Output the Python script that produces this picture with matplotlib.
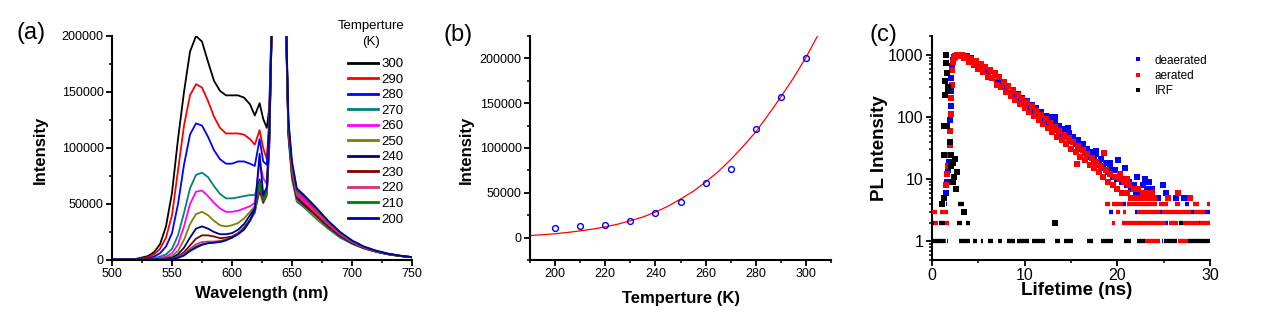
import numpy as np
import matplotlib
matplotlib.use("Agg")
import matplotlib.pyplot as plt
from matplotlib.lines import Line2D
from matplotlib.ticker import MultipleLocator, NullFormatter

plt.rcParams['font.family'] = ['Liberation Sans', 'DejaVu Sans']

# ---------------- (a) PL spectra vs temperature (values in units of 1000) ----------------
wavelength = [500, 510, 520, 530, 535, 540, 545, 550, 555, 560, 565, 570, 575, 580, 585,
              590, 595, 600, 605, 610, 615, 619, 623, 626, 629, 631, 634, 639, 644, 647,
              650, 654, 660, 670, 680, 690, 700, 710, 720, 730, 740, 750]
temps_a = [300, 290, 280, 270, 260, 250, 240, 230, 220, 210, 200]
colors_a = ['#000000', '#ff0000', '#0000ff', '#008080', '#ff00ff', '#808000',
            '#000080', '#800000', '#d6307a', '#008000', '#0000a8']

spec_300 = [0.5, 0.5, 1.0, 3.5, 7, 14, 30, 60, 108, 150, 186, 200, 195, 177, 160,
            151, 147, 147, 147, 145, 139, 129, 140, 126, 118, 135, 250, 600, 260, 120,
            82, 62, 55, 43, 32, 23, 16, 11, 7.8, 5.4, 3.7, 2.5]
spec_290 = [0.5, 0.5, 0.8, 2.5, 5, 10, 20, 40, 80, 120, 147, 157, 154, 142, 128,
            118, 113, 113, 113, 112, 108, 103, 116, 100, 90, 125, 250, 600, 260, 120,
            82, 62, 55, 44, 33, 23, 16, 11, 7.8, 5.4, 3.7, 2.5]
spec_280 = [0.5, 0.5, 0.6, 1.5, 3, 6, 12, 24, 50, 85, 112, 122, 120, 110, 98,
            90, 86, 86, 88, 88, 86, 84, 108, 88, 85, 120, 250, 600, 260, 115,
            78, 58, 52, 42, 31, 22, 15.5, 10.8, 7.6, 5.3, 3.6, 2.5]
spec_270 = [0.5, 0.5, 0.5, 1, 1.5, 3, 5, 10, 22, 42, 64, 76, 78, 74, 66,
            59, 55, 55, 56, 57, 58, 58, 70, 56, 62, 110, 250, 600, 255, 110,
            72, 52, 47, 37, 28, 20, 14.5, 10.2, 7.2, 5.0, 3.5, 2.4]
spec_260 = [0.5, 0.5, 0.5, 0.8, 1.2, 2, 3, 6, 14, 30, 50, 61, 62, 57, 51,
            46, 43, 43, 44, 46, 48, 51, 88, 73, 68, 110, 250, 600, 260, 118,
            80, 60, 54, 43, 32, 23, 16, 11, 7.8, 5.4, 3.7, 2.5]
spec_250 = [0.5, 0.5, 0.5, 0.6, 0.8, 1.2, 2, 3.5, 8, 18, 32, 41, 43, 40, 35,
            31, 30, 31, 33, 37, 43, 48, 66, 54, 62, 105, 250, 600, 255, 112,
            75, 54, 48, 38, 29, 21, 15, 10.5, 7.4, 5.1, 3.5, 2.4]
spec_240 = [0.5, 0.5, 0.5, 0.5, 0.6, 0.8, 1.2, 2, 5, 11, 20, 28, 30, 28, 25,
            23, 23, 24, 27, 32, 40, 46, 72, 55, 60, 105, 250, 600, 255, 114,
            77, 56, 50, 40, 30, 21.5, 15, 10.6, 7.5, 5.2, 3.6, 2.4]
spec_230 = [0.5, 0.5, 0.5, 0.5, 0.5, 0.5, 0.8, 1.5, 3, 7, 13, 19, 22, 22, 21,
            19.5, 20, 21, 24, 29, 36, 43, 62, 51, 58, 100, 250, 600, 255, 114,
            76, 55, 49, 40, 30, 22, 15.5, 10.8, 7.6, 5.3, 3.6, 2.5]
spec_220 = [0.5, 0.5, 0.5, 0.5, 0.5, 0.5, 0.7, 1.2, 2.5, 5.5, 10, 14, 16, 16.5, 16.5,
            17, 18.5, 20, 24, 28, 35, 42, 68, 53, 60, 100, 250, 600, 260, 118,
            80, 58, 52, 42, 32, 23, 16, 11, 7.8, 5.4, 3.7, 2.5]
spec_210 = [0.5, 0.5, 0.5, 0.5, 0.5, 0.5, 0.6, 1, 2, 4.5, 8.5, 12, 14, 15, 15.5,
            16.5, 18, 20, 23, 28, 36, 44, 70, 53, 62, 105, 250, 600, 265, 122,
            85, 62, 57, 46, 35, 25, 17, 11.8, 8.2, 5.6, 3.8, 2.6]
spec_200 = [0.5, 0.5, 0.5, 0.5, 0.5, 0.5, 0.6, 1, 2, 4, 8, 11, 13.5, 15, 15.5,
            16, 17.5, 20, 23, 27, 35, 45, 95, 58, 65, 110, 250, 600, 268, 125,
            88, 64, 58, 47, 35, 25, 17.5, 12, 8.4, 5.7, 3.9, 2.6]
spectra = [spec_300, spec_290, spec_280, spec_270, spec_260, spec_250,
           spec_240, spec_230, spec_220, spec_210, spec_200]

# ---------------- (b) peak intensity vs temperature ----------------
temp_b = [200, 210, 220, 230, 240, 250, 260, 270, 280, 290, 300]
peak_b = [10500, 12500, 14300, 19000, 28000, 40000, 61000, 76800, 121500, 157000, 200000]
fit_t = [190, 195, 200, 205, 210, 215, 220, 225, 230, 235, 240, 245, 250,
         255, 260, 265, 270, 275, 280, 285, 290, 295, 300, 305]
fit_i = [2300, 3200, 4300, 5800, 7500, 9500, 12000, 15000, 18800, 23000, 28500, 35000, 43000,
         51500, 62000, 73500, 87000, 102000, 118000, 137000, 157000, 178000, 201000, 227000]

# ---------------- (c) PL decay ----------------
dea_rise_t = [1.5, 1.58, 1.7, 1.8, 1.9, 1.95, 2.0, 2.05, 2.1, 2.2, 2.3, 2.4]
dea_rise_n = [6, 9, 14, 19, 40, 90, 150, 260, 420, 650, 820, 920]
aer_rise_t = [1.55, 1.65, 1.75, 1.85, 1.92, 1.97, 2.02, 2.07, 2.12, 2.2, 2.3, 2.4]
aer_rise_n = [8, 12, 16, 24, 35, 60, 110, 200, 330, 560, 760, 900]

decay_t0 = 2.5      # first channel of decay lists (ns)
decay_dt = 0.25     # channel spacing of decay lists (ns)
dea_decay = [930, 990, 1000, 1000, 960, 950, 830, 870, 740, 790,
             630, 700, 560, 610, 490, 540, 430, 470, 370, 410,
             320, 350, 280, 310, 240, 265, 212, 235, 182, 200,
             165, 180, 140, 157, 125, 138, 108, 120, 94, 105,
             82, 100, 72, 84, 62, 72, 54, 64, 48, 56,
             41, 48, 36, 43, 30, 36, 26, 31, 23, 27,
             20, 25, 17, 21, 15, 18, 13, 15, 11, 14,
             10, 12, 9, 10, 8, 9, 7, 8, 6, 7,
             6, 8, 5, 7, 6, 7, 5]
aer_decay = [960, 1000, 940, 990, 880, 920, 760, 860, 680, 780,
             580, 700, 530, 630, 440, 560, 420, 500, 330, 440,
             300, 370, 250, 315, 220, 270, 185, 228, 160, 195,
             140, 172, 118, 148, 104, 126, 88, 108, 77, 93,
             66, 80, 57, 70, 48, 60, 42, 52, 36, 45,
             31, 39, 27, 34, 23, 29, 20, 25, 17, 22,
             15, 19, 13, 16, 11, 14, 9, 12, 8, 11,
             7, 10, 6, 9, 6, 8, 5, 7, 5, 7,
             5, 6, 5, 6, 5, 6, 5]
dea_extra_t = [13.3, 14.7, 17.7, 19.2, 20.1, 20.8, 22.1, 23.0, 23.4, 24.4, 24.9, 25.3, 26.3, 27.2]
dea_extra_n = [100, 66, 28, 18, 20, 15, 11, 10, 9, 5, 8, 6, 5, 5]
aer_extra_t = [15.7, 18.6, 20.3, 21.0, 25.5, 26.6, 27.8]
aer_extra_n = [17.5, 26, 12, 10, 5, 6, 5]

irf_t = [1.47, 1.52, 1.58, 1.40, 1.76, 1.40, 1.70, 1.33, 1.58, 1.94, 1.26, 2.00,
         2.44, 2.09, 2.30, 2.66, 2.37, 2.23, 2.59, 1.26, 1.08, 3.45, 13.27]
irf_n = [1000, 740, 506, 371, 272, 226, 300, 71, 71, 40, 24, 24,
         21, 16, 18, 13, 11, 9, 7, 5, 4, 3, 2]

# runs of low-count channels: (count, t start, t end)
dea_runs = [(2, 0.0, 0.2), (4, 1.5, 1.6), (1, 1.6, 1.7), (3, 19.1, 19.55), (4, 20.65, 20.95),
            (3, 21.95, 22.1), (3, 24.6, 24.8), (1, 24.8, 24.95), (2, 25.3, 25.45),
            (4, 27.3, 27.7), (3, 28.0, 28.3), (2, 28.8, 28.95), (3, 29.5, 30.0)]
aer_runs = [(3, 0.0, 0.55), (3, 0.86, 1.75), (2, 0.2, 0.7), (2, 1.4, 1.8), (1, 1.4, 1.55),
            (4, 18.7, 19.2), (4, 19.4, 20.65), (4, 21.0, 24.3), (4, 24.5, 25.5), (4, 26.2, 26.8),
            (4, 28.2, 28.8), (4, 29.7, 30.0),
            (3, 19.85, 20.3), (3, 20.6, 20.9), (3, 22.1, 24.6), (3, 24.8, 28.0), (3, 28.3, 29.5),
            (2, 19.4, 19.8), (2, 20.5, 25.3), (2, 25.6, 26.6), (2, 27.1, 28.8), (2, 28.9, 30.0),
            (1, 22.98, 24.6), (1, 26.58, 27.66)]
irf_runs = [(1, 0.0, 1.4), (1, 2.95, 4.1), (1, 4.46, 4.82), (1, 5.25, 5.54), (1, 6.08, 6.55),
            (1, 7.16, 7.52), (1, 8.13, 8.96), (1, 9.14, 10.5), (1, 10.76, 12.19), (1, 13.27, 13.81),
            (1, 14.24, 15.18), (1, 16.69, 17.41), (1, 18.24, 19.49), (1, 20.72, 21.44),
            (1, 22.09, 22.98), (1, 25.03, 26.4), (1, 27.66, 30.0),
            (2, 0.8, 1.4), (2, 2.66, 3.2), (2, 3.7, 4.1), (2, 26.7, 27.1),
            (4, 0.8, 1.4), (4, 2.84, 3.4)]

# ---------------- figure ----------------
W, H = 1269, 313
fig = plt.figure(figsize=(W / 100, H / 100), dpi=100)
bot, hgt = 53 / H, 224 / H
ax_a = fig.add_axes([112 / W, bot, 300 / W, hgt])
ax_b = fig.add_axes([530 / W, bot, 301 / W, hgt])
ax_c = fig.add_axes([932 / W, bot, 278 / W, hgt])


def style(ax, labelsize):
    for s in ['top', 'right']:
        ax.spines[s].set_visible(False)
    for s in ['left', 'bottom']:
        ax.spines[s].set_linewidth(1.5)
    ax.tick_params(which='major', direction='out', length=4, width=1.3, labelsize=labelsize, pad=2)
    ax.tick_params(which='minor', direction='out', length=2.5, width=1.1)


# (a)
for vals, c, T in zip(spectra, colors_a, temps_a):
    ax_a.plot(wavelength, np.array(vals) * 1000, color=c, lw=1.3, label=str(T))
ax_a.set_xlim(500, 750)
ax_a.set_ylim(0, 200000)
ax_a.xaxis.set_major_locator(MultipleLocator(50))
ax_a.xaxis.set_minor_locator(MultipleLocator(25))
ax_a.yaxis.set_major_locator(MultipleLocator(50000))
ax_a.yaxis.set_minor_locator(MultipleLocator(25000))
style(ax_a, 9)
ax_a.set_xlabel('Wavelength (nm)', fontsize=12, fontweight='bold')
ax_a.set_ylabel('Intensity', fontsize=12, fontweight='bold')
ax_a.xaxis.set_label_coords(0.5, -0.118)
ax_a.yaxis.set_label_coords(-0.215, 0.49)
leg = ax_a.legend(loc='upper left', bbox_to_anchor=(0.787, 0.902),
                  frameon=False, fontsize=9.5, handlelength=2.3,
                  handletextpad=0.2, labelspacing=0.25, borderpad=0, borderaxespad=0)
for l in leg.get_lines():
    l.set_linewidth(2)
fig.text(371 / W, 1 - 34 / H, 'Temperture\n(K)', fontsize=9.5, ha='center', va='center',
         linespacing=1.35)
fig.text(31 / W, 1 - 33 / H, '(a)', fontsize=17, ha='center', va='center')

# (b)
ax_b.plot(fit_t, fit_i, color='#ff0000', lw=0.9)
ax_b.plot(temp_b, peak_b, 'o', mfc='none', mec='#0000ff', ms=4.2, mew=1.0)
ax_b.set_xlim(190, 310)
ax_b.set_ylim(-25000, 225000)
ax_b.xaxis.set_major_locator(MultipleLocator(20))
ax_b.xaxis.set_minor_locator(MultipleLocator(10))
ax_b.yaxis.set_major_locator(MultipleLocator(50000))
ax_b.yaxis.set_minor_locator(MultipleLocator(25000))
style(ax_b, 9)
ax_b.set_xlabel('Temperture (K)', fontsize=12, fontweight='bold')
ax_b.set_ylabel('Intensity', fontsize=12, fontweight='bold')
ax_b.xaxis.set_label_coords(0.5, -0.138)
ax_b.yaxis.set_label_coords(-0.185, 0.49)
fig.text(458 / W, 1 - 35 / H, '(b)', fontsize=17, ha='center', va='center')

# (c)
sq = dict(marker='s', s=18, linewidths=0)
band_lw = 3.1


def draw_runs(runs, color, z):
    for lvl, t0, t1 in runs:
        ax_c.hlines(lvl, t0, t1, colors=color, lw=band_lw, zorder=z)


dea_t = decay_t0 + decay_dt * np.arange(len(dea_decay))
aer_t = decay_t0 + decay_dt * np.arange(len(aer_decay))
draw_runs(dea_runs, '#0000ff', 2)
ax_c.scatter(dea_rise_t + list(dea_t) + dea_extra_t, dea_rise_n + dea_decay + dea_extra_n,
             color='#0000ff', zorder=2, **sq)
draw_runs(aer_runs, '#ff0000', 3)
ax_c.scatter(aer_rise_t + list(aer_t) + aer_extra_t, aer_rise_n + aer_decay + aer_extra_n,
             color='#ff0000', zorder=3, **sq)
draw_runs(irf_runs, '#000000', 4)
ax_c.scatter(irf_t, irf_n, color='#000000', zorder=4, **sq)

ax_c.set_yscale('log')
ax_c.set_xlim(0, 30)
ax_c.set_ylim(0.5, 2000)
ax_c.set_yticks([1, 10, 100, 1000])
ax_c.set_yticklabels(['1', '10', '100', '1000'])
ax_c.yaxis.set_minor_formatter(NullFormatter())
ax_c.xaxis.set_major_locator(MultipleLocator(10))
ax_c.xaxis.set_minor_locator(MultipleLocator(5))
style(ax_c, 11.5)
ax_c.set_xlabel('Lifetime (ns)', fontsize=13.5, fontweight='bold')
ax_c.set_ylabel('PL Intensity', fontsize=13.5, fontweight='bold')
ax_c.xaxis.set_label_coords(0.52, -0.1)
ax_c.yaxis.set_label_coords(-0.16, 0.5)
handles = [Line2D([], [], ls='', marker='s', ms=3.5, mew=0, color=c)
           for c in ['#0000ff', '#ff0000', '#000000']]
ax_c.legend(handles, ['deaerated', 'aerated', 'IRF'], loc='upper left',
            bbox_to_anchor=(0.72, 0.917), frameon=False, fontsize=8.5,
            handlelength=1.0, handletextpad=0.9, labelspacing=0.26,
            borderpad=0, borderaxespad=0)
fig.text(883 / W, 1 - 35 / H, '(c)', fontsize=17, ha='center', va='center')

fig.savefig('out.png', dpi=100)
